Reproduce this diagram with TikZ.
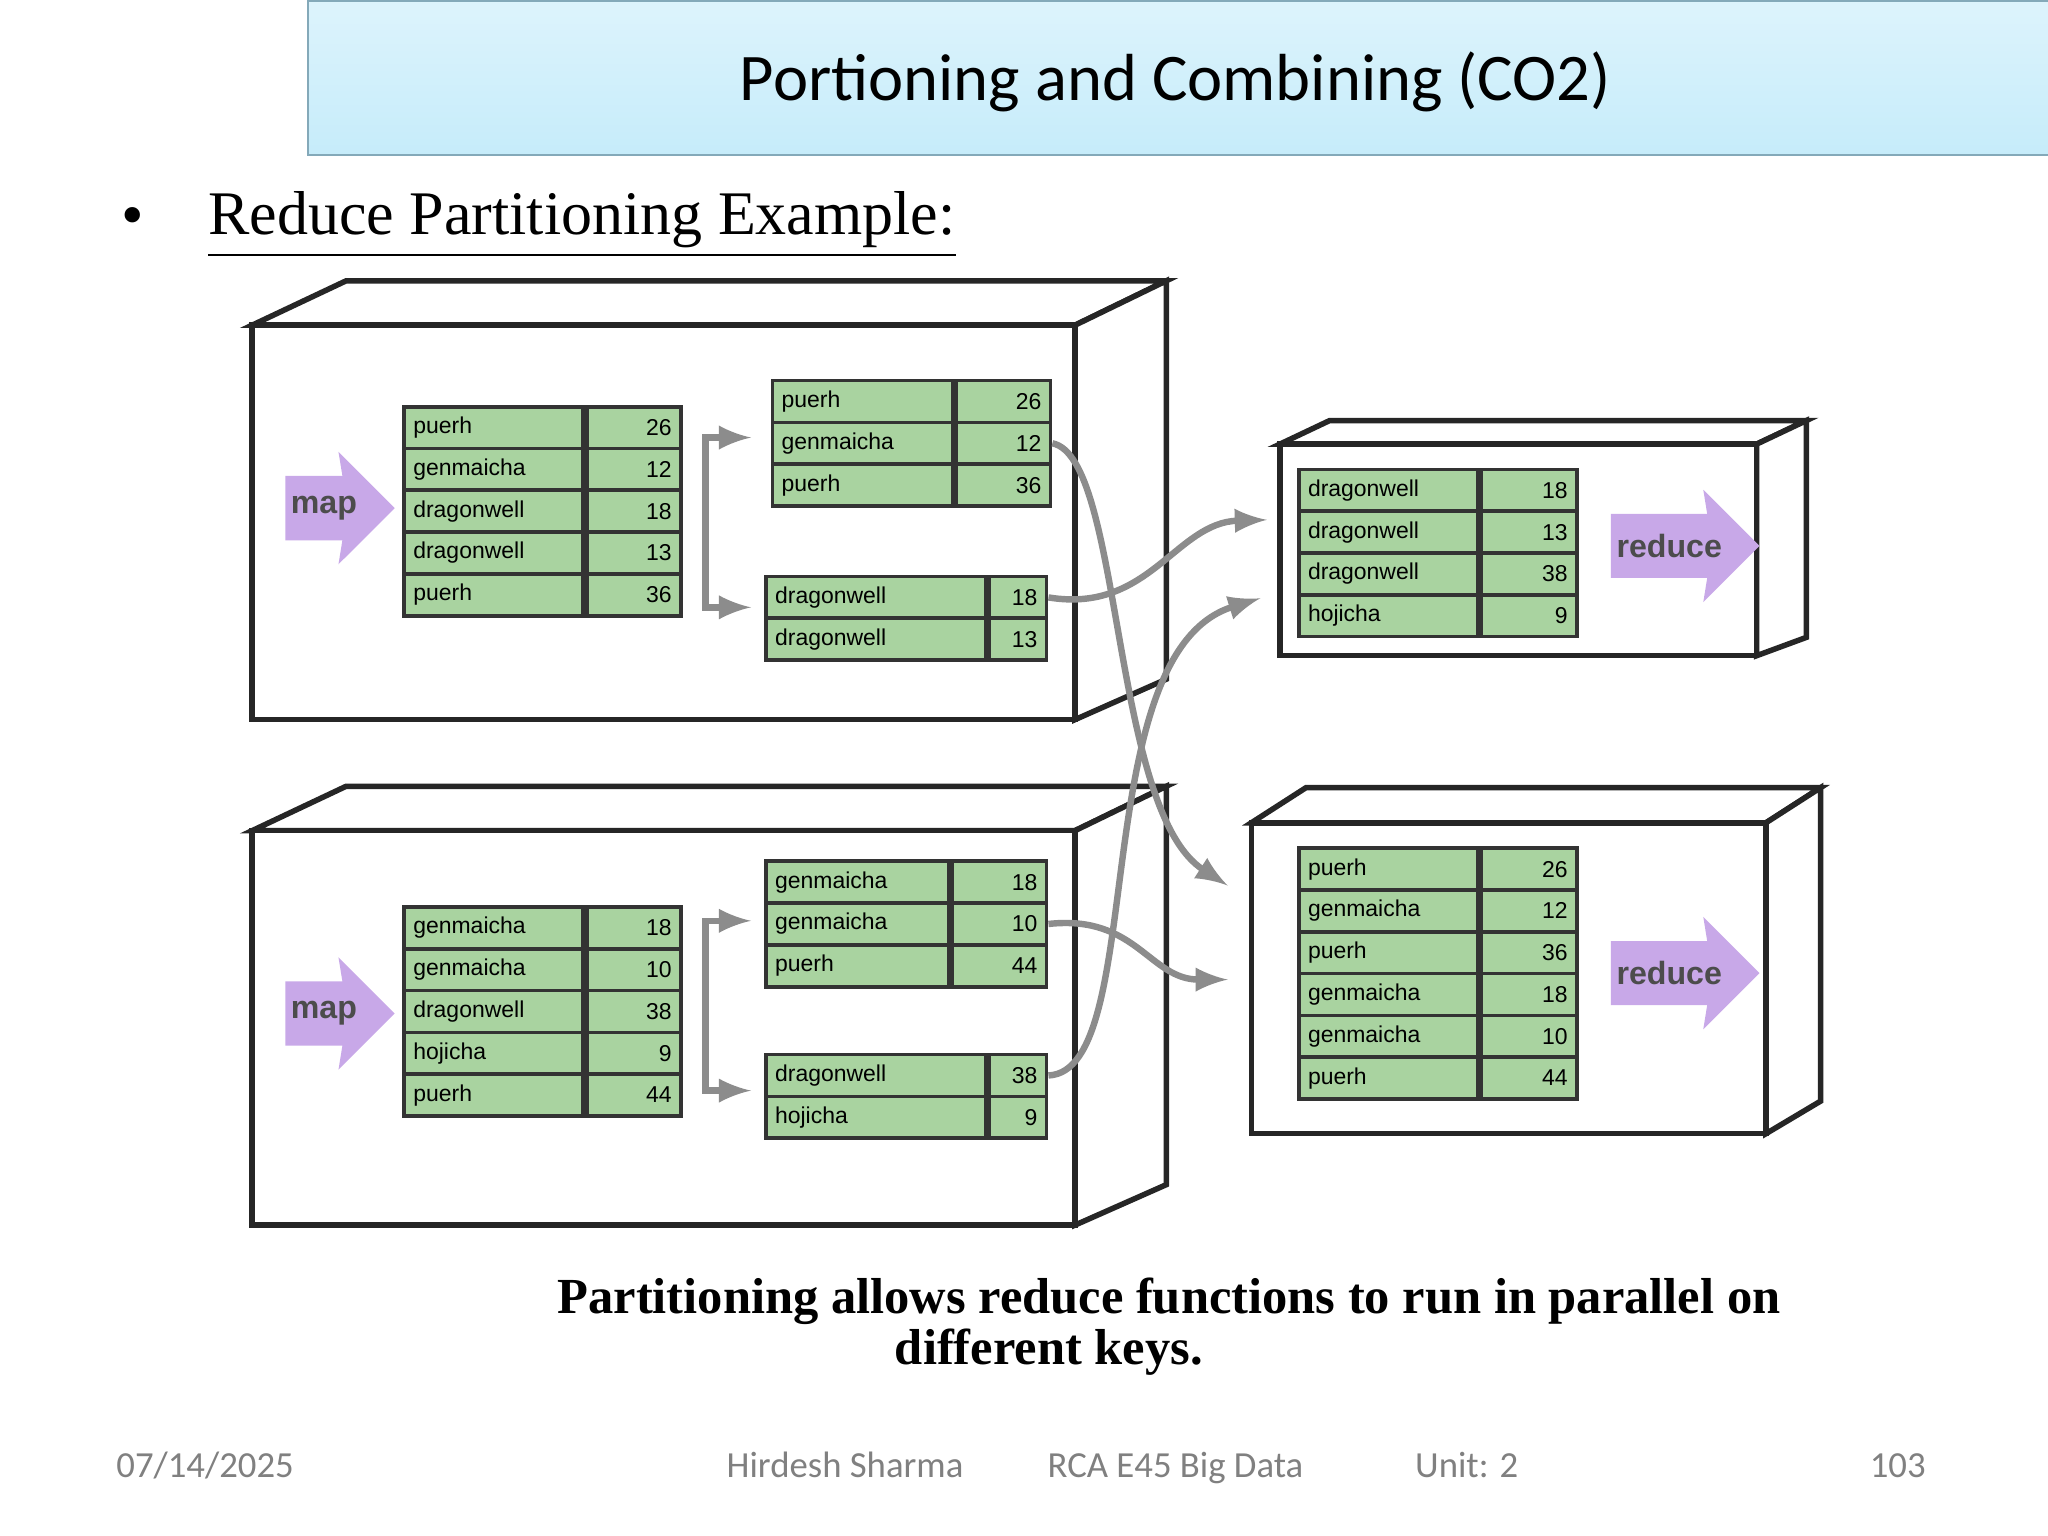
\documentclass[tikz,border=0pt]{standalone}
\usepackage{fontspec}
\setmainfont{Liberation Serif}
\newfontfamily\slidefont{Carlito}
\newfontfamily\tabfont{Liberation Sans}
\usetikzlibrary{shapes.arrows}
\definecolor{cellgreen}{HTML}{A9D3A0}
\definecolor{arrowpurple}{HTML}{C8A8E8}
\definecolor{titleblue}{HTML}{C6ECFA}
\tikzset{
  cell/.style={draw=black!80, line width=0.8pt, fill=cellgreen, anchor=north west,
    minimum height=0.32cm, inner sep=2pt, font=\tabfont\fontsize{5}{6}\selectfont},
  keycell/.style={cell, minimum width=#1, text width=#1-4pt, align=left},
  valcell/.style={cell, minimum width=#1, text width=#1-4pt, align=right},
  box/.style={draw=black!85, line width=1.2pt, fill=white},
  boxside/.style={draw=black!85, line width=1.2pt, fill=white},
  flow/.style={draw=black!45, line width=1.4pt, -latex},
  blockarrow/.style={single arrow, fill=arrowpurple, draw=none, minimum height=#1,
    single arrow head extend=0.1cm, single arrow head indent=0.03cm, inner sep=1pt,
    font=\tabfont\bfseries\fontsize{7}{8}\selectfont, text=black!70},
  footer/.style={font=\slidefont\fontsize{8}{10}\selectfont, text=black!50, anchor=base},
}
% kv table: name, x left, key width, val width, y top, rows
\newcommand{\kvtable}[6]{%
  \foreach \k/\v [count=\i] in {#6} {
    \node[keycell=#3cm] (#1k\i) at (#2, {#5+32*(\i-1)}) {\k};
    \node[valcell=#4cm, anchor=north west] (#1v\i) at (#1k\i.north east) {\v};
  }}
\begin{document}
\begin{tikzpicture}[x=0.01cm, y=-0.01cm]
\useasboundingbox (0,0) rectangle (1568,1176);

% title bar
\node[draw=cyan!50!black!60, top color=titleblue!60, bottom color=titleblue, minimum width=13.33cm,
  minimum height=1.18cm, anchor=north west] (title) at (235,0) {};
\node[font=\slidefont\fontsize{14.5}{17}\selectfont] (titletext) at (900,63) {Portioning and Combining (CO2)};
\node[font=\fontsize{14}{17}\selectfont] (bullet) at (102,170) {\textbullet};
\node[anchor=west, font=\fontsize{13.5}{16}\selectfont] (heading) at (147,172) {\underline{Reduce Partitioning Example:}};

% map boxes
\foreach \y/\n in {0/top, 387/bot} {
  \draw[boxside] (193,249+\y) -- (265,215+\y) -- (893,215+\y) -- (823,249+\y) -- cycle;
  \draw[boxside] (823,249+\y) -- (893,215+\y) -- (893,520+\y) -- (823,551+\y) -- cycle;
  \draw[box] (193,249+\y) rectangle (823,551+\y);
  \node[blockarrow=0.7cm, minimum width=0.86cm] (map\n) at (248,389+\y) {map};
}
% reduce boxes
\draw[boxside] (980,340) -- (1018,322) -- (1383,322) -- (1345,340) -- cycle;
\draw[boxside] (1345,340) -- (1383,322) -- (1383,488) -- (1345,502) -- cycle;
\draw[box] (980,340) rectangle (1345,502);
\draw[boxside] (958,630) -- (1000,603) -- (1394,603) -- (1352,630) -- cycle;
\draw[boxside] (1352,630) -- (1394,603) -- (1394,843) -- (1352,868) -- cycle;
\draw[box] (958,630) rectangle (1352,868);
\node[blockarrow=1.08cm, minimum width=0.86cm] (redtop) at (1278,418) {reduce};
\node[blockarrow=1.08cm, minimum width=0.86cm] (redbot) at (1278,745) {reduce};

% tables
\kvtable{ta}{308}{1.37}{0.72}{310}{puerh/26, genmaicha/12, dragonwell/18, dragonwell/13, puerh/36}
\kvtable{tb}{590}{1.38}{0.72}{290}{puerh/26, genmaicha/12, puerh/36}
\kvtable{tc}{585}{1.68}{0.44}{440}{dragonwell/18, dragonwell/13}
\kvtable{ba}{308}{1.37}{0.72}{693}{genmaicha/18, genmaicha/10, dragonwell/38, hojicha/9, puerh/44}
\kvtable{bb}{585}{1.40}{0.72}{658}{genmaicha/18, genmaicha/10, puerh/44}
\kvtable{bc}{585}{1.68}{0.44}{806}{dragonwell/38, hojicha/9}
\kvtable{ra}{993}{1.37}{0.73}{358}{dragonwell/18, dragonwell/13, dragonwell/38, hojicha/9}
\kvtable{rb}{993}{1.37}{0.73}{648}{puerh/26, genmaicha/12, puerh/36, genmaicha/18, genmaicha/10, puerh/44}

% split brackets
\foreach \y in {0, 370} {
  \draw[flow] (540,465+\y) -- (540,335+\y) -- (575,335+\y);
  \draw[flow] (540,400+\y) -- (540,465+\y) -- (575,465+\y);
}
\coordinate (ina) at (970,398);
\coordinate (inb) at (965,458);
\coordinate (inc) at (940,678);
\coordinate (ind) at (940,750);
\draw[flow] (tbv2.east) .. controls (860,350) and (850,620) .. (inc);
\draw[flow] (tcv1.east) .. controls (880,470) and (900,400) .. (ina);
\draw[flow] (bbv2.east) .. controls (870,700) and (880,750) .. (ind);
\draw[flow] (bcv1.east) .. controls (880,820) and (830,500) .. (inb);

% caption
\node[font=\bfseries\fontsize{11}{13}\selectfont] (caption) at (895,996)
  {Partitioning allows reduce functions to run in parallel on};
\node[font=\bfseries\fontsize{11}{13}\selectfont] (caption2) at (803,1035) {different keys.};

% footer
\foreach \x/\t/\n in {157/07\slash 14\slash 2025/fa, 647/Hirdesh Sharma/fb, 900/RCA E45 Big Data/fc, 1123/Unit: 2/fd, 1453/103/fe}
  \node[footer] (\n) at (\x,1131) {\t};
\end{tikzpicture}
\end{document}
